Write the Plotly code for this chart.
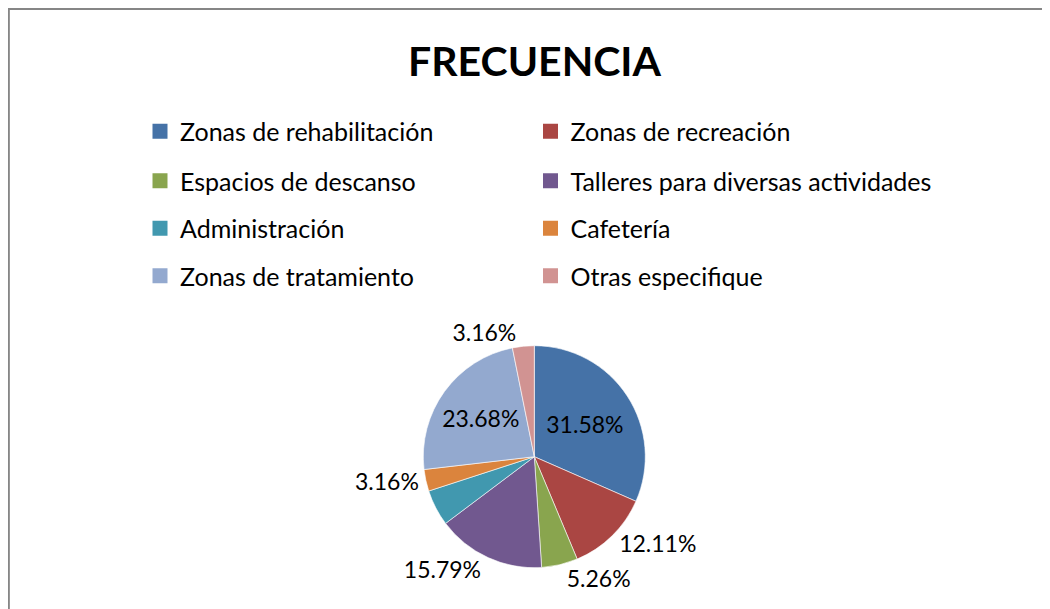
import plotly.graph_objects as go

W, H = 1050, 609
OFF = 8  # page body margin; reference page px -> figure px

labels = ["Zonas de rehabilitación", "Zonas de recreación", "Espacios de descanso",
          "Talleres para diversas actividades", "Administración", "Cafetería",
          "Zonas de tratamiento", "Otras especifique"]
values = [31.58, 12.11, 5.26, 15.79, 5.26, 3.16, 23.68, 3.16]
colors = ["#4572A7", "#AA4643", "#89A54E", "#71588F", "#4198AF", "#DB843D", "#93A9CF", "#D19392"]
show_label = [True, True, True, True, False, True, True, True]
label_pos = ["inside", "outside", "outside", "outside", "inside", "outside", "inside", "outside"]
title_text = "FRECUENCIA"

FONT = "Lato, Carlito, Calibri, sans-serif"

def px_x(p):
    return (p - OFF) / W

def px_y(p):
    return 1 - (p - OFF) / H

fig = go.Figure()

cx, cy, r = 534.3, 456.7, 111
fig.add_trace(go.Pie(
    labels=labels, values=values, sort=False, direction="clockwise", rotation=0,
    marker=dict(colors=colors, line=dict(color="white", width=0.6)),
    texttemplate=["%{percent:.2%}" if s else "" for s in show_label],
    textposition=label_pos,
    insidetextorientation="horizontal",
    textfont=dict(family=FONT, size=23, color="black"),
    showlegend=False,
    domain=dict(x=[px_x(cx - r), px_x(cx + r)], y=[px_y(cy + r), px_y(cy - r)]),
))

# legend: 4 rows x 2 columns, one legend box per entry
row_y = [131.5, 181, 228.5, 276]
col_x = [140, 530.5]
layout_legends = {}
for i, (lab, col) in enumerate(zip(labels, colors)):
    name = "legend" if i == 0 else f"legend{i + 1}"
    fig.add_trace(go.Scatter(
        x=[None], y=[None], mode="markers", name=lab,
        marker=dict(symbol="square", size=15, color=col, line=dict(width=0)),
        legend=name, hoverinfo="skip",
    ))
    layout_legends[name] = dict(
        orientation="h", x=px_x(col_x[i % 2]), xanchor="left",
        y=px_y(row_y[i // 2]), yanchor="middle",
        font=dict(family=FONT, size=25, color="black"),
        bgcolor="rgba(0,0,0,0)", itemclick=False, itemdoubleclick=False,
    )

fig.update_layout(
    width=W, height=H,
    margin=dict(l=0, r=0, t=0, b=0),
    paper_bgcolor="white", plot_bgcolor="white",
    xaxis=dict(visible=False), yaxis=dict(visible=False),
    annotations=[dict(
        text=f"<b>{title_text}</b>", x=px_x(535), y=px_y(60), xref="paper", yref="paper",
        xanchor="center", yanchor="middle", showarrow=False,
        font=dict(family=FONT, size=41, color="black"),
    )],
    shapes=[dict(
        type="rect", xref="paper", yref="paper",
        x0=0.0008, y0=0.9985, x1=1.2, y1=-0.2,
        line=dict(color="#868686", width=2), fillcolor="rgba(0,0,0,0)", layer="below",
    )],
    **layout_legends,
)

fig.write_html("out.html")
